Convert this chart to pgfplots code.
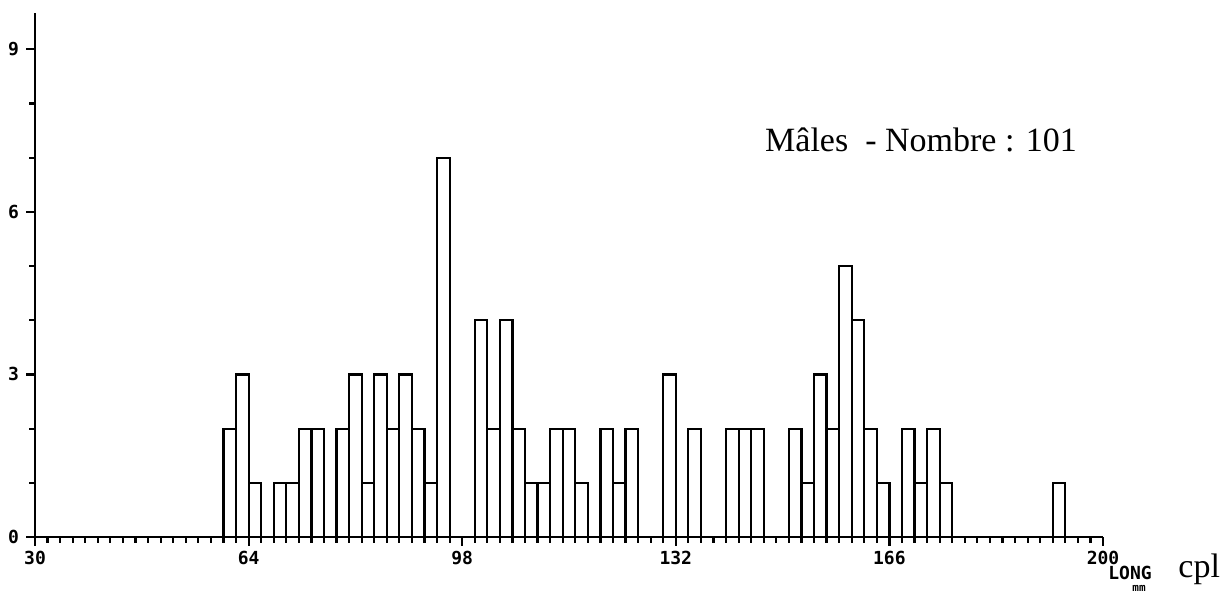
\documentclass[border=0pt]{standalone}
\usepackage{pgfplots}
\pgfplotsset{compat=1.18}
\usepackage{fontspec}
\setmainfont{Liberation Serif}
\newfontfamily\plotfont{DejaVu Sans Mono}

\begin{document}
\begin{tikzpicture}
\useasboundingbox (0,0) rectangle (612pt,296.5pt);
\begin{axis}[
  at={(17.5pt,28pt)}, anchor=south west,
  scale only axis, width=534pt, height=262pt,
  xmin=30, xmax=200, ymin=0, ymax=9.67,
  axis x line=bottom, axis y line=left,
  axis line style={-, line width=1.4pt},
  xtick={30,64,98,132,166,200}, minor x tick num=16,
  ytick={0,3,6,9}, minor y tick num=2,
  tick align=outside, major tick length=4.5pt, minor tick length=3pt,
  tick style={line width=1.1pt, black},
  ticklabel style={font=\plotfont\bfseries\fontsize{9}{10}\selectfont},
  xticklabel style={yshift=1pt},
  /pgf/number format/assume math mode=true,
  clip=false,
]
\addplot[ybar interval, draw=black, fill=none, line width=1.1pt] coordinates {
(60,2) (62,3) (64,1) (66,0) (68,1) (70,1) (72,2) (74,2) (76,0) (78,2)
(80,3) (82,1) (84,3) (86,2) (88,3) (90,2) (92,1) (94,7) (96,0) (98,0)
(100,4) (102,2) (104,4) (106,2) (108,1) (110,1) (112,2) (114,2) (116,1) (118,0)
(120,2) (122,1) (124,2) (126,0) (128,0) (130,3) (132,0) (134,2) (136,0) (138,0)
(140,2) (142,2) (144,2) (146,0) (148,0) (150,2) (152,1) (154,3) (156,2) (158,5)
(160,4) (162,2) (164,1) (166,0) (168,2) (170,1) (172,2) (174,1) (176,0) (178,0)
(180,0) (182,0) (184,0) (186,0) (188,0) (190,0) (192,1) (194,0)
};
\end{axis}
\node[font=\fontsize{17}{19}\selectfont] at (460.5pt,226.5pt) {Mâles\ \ - Nombre : 101};
\node[font=\plotfont\bfseries\fontsize{9}{10}\selectfont, inner sep=0pt] at (565pt,10pt) {LONG};
\node[font=\plotfont\bfseries\fontsize{5.5}{6}\selectfont, inner sep=0pt] at (569.5pt,2.5pt) {mm};
\node[font=\fontsize{17}{19}\selectfont, anchor=west, inner sep=0pt] at (589pt,12pt) {cpl};
\end{tikzpicture}
\end{document}
